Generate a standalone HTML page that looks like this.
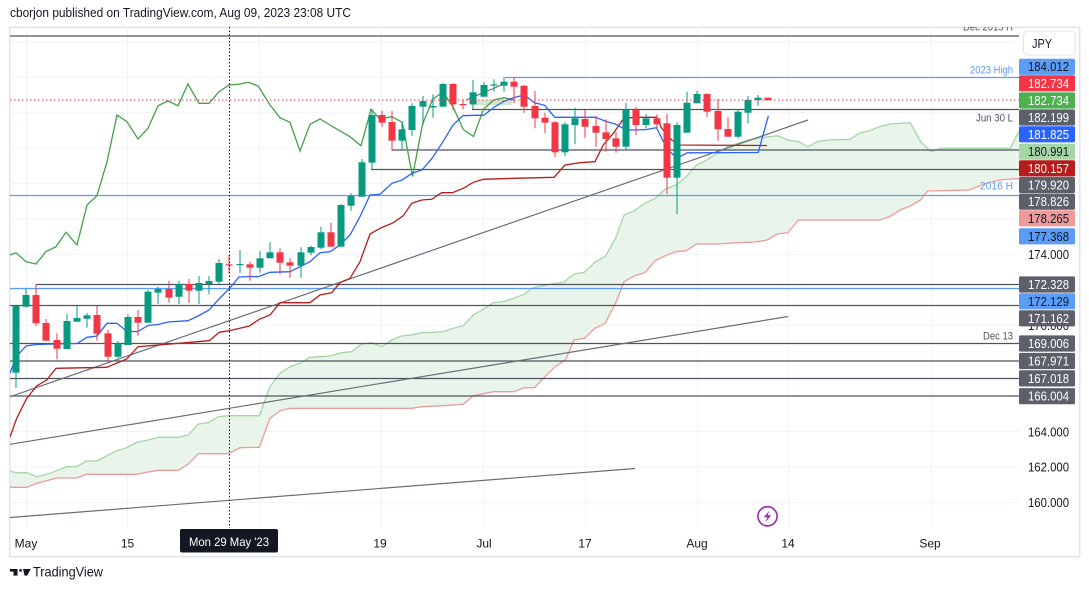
<!DOCTYPE html>
<html><head><meta charset="utf-8"><style>
html,body{margin:0;padding:0;background:#fff;}
body{width:1089px;height:592px;overflow:hidden;}
svg{display:block;font-family:"Liberation Sans",Arial,sans-serif;}
</style></head><body>
<svg width="1089" height="592" viewBox="0 0 1089 592" xmlns="http://www.w3.org/2000/svg">
<defs><clipPath id="pc"><rect x="10" y="27" width="1009" height="501"/></clipPath></defs>
<rect width="1089" height="592" fill="#fff"/>
<text x="10" y="17" font-size="13" fill="#131722" textLength="341" lengthAdjust="spacingAndGlyphs">cborjon published on TradingView.com, Aug 09, 2023 23:08 UTC</text>
<rect x="9.75" y="27.25" width="1070" height="529.5" fill="none" stroke="#e0e3eb" stroke-width="1.5"/>
<g clip-path="url(#pc)">
<g stroke="#f0f3fa" stroke-width="1">
<line x1="26.5" y1="27" x2="26.5" y2="528"/><line x1="127.5" y1="27" x2="127.5" y2="528"/><line x1="259.5" y1="27" x2="259.5" y2="528"/><line x1="381.5" y1="27" x2="381.5" y2="528"/><line x1="483.5" y1="27" x2="483.5" y2="528"/><line x1="585.5" y1="27" x2="585.5" y2="528"/><line x1="697.5" y1="27" x2="697.5" y2="528"/><line x1="788.5" y1="27" x2="788.5" y2="528"/><line x1="931.5" y1="27" x2="931.5" y2="528"/>
<line x1="10" y1="42" x2="1019" y2="42"/><line x1="10" y1="77.3" x2="1019" y2="77.3"/><line x1="10" y1="112.8" x2="1019" y2="112.8"/><line x1="10" y1="148.2" x2="1019" y2="148.2"/><line x1="10" y1="183.6" x2="1019" y2="183.6"/><line x1="10" y1="219" x2="1019" y2="219"/><line x1="10" y1="254.4" x2="1019" y2="254.4"/><line x1="10" y1="289.9" x2="1019" y2="289.9"/><line x1="10" y1="325.3" x2="1019" y2="325.3"/><line x1="10" y1="360.7" x2="1019" y2="360.7"/><line x1="10" y1="396" x2="1019" y2="396"/><line x1="10" y1="431.5" x2="1019" y2="431.5"/><line x1="10" y1="467" x2="1019" y2="467"/><line x1="10" y1="502.4" x2="1019" y2="502.4"/>
</g>
<polygon fill="#e9f5ea" points="10,471 16.7,472.7 26.7,472.7 36.7,476.7 46.7,474.3 56.7,470.7 66.7,466.7 76.7,466.7 86.7,461 96.7,461 106.7,456 116.7,450.7 126.7,447.7 136.7,442.3 148.3,440 158.3,437.3 178.3,437.3 188.3,435 198.3,424 208.3,422.7 218.3,416.7 228.3,415.7 259.3,415.7 265,400 270,386.7 280,373.3 290,366.7 300,363.3 310,357.3 320,356.7 330,356 341.7,352.7 351.7,351.7 361.7,344 371.7,342.7 381.7,346.7 391.7,340 401.7,336 411.7,335 421.7,332.7 433.3,332.3 443.3,331.7 453.3,328.3 463.3,325.7 473.3,315 483.3,309.3 493.3,302.7 503.3,301.7 513.8,298.3 524.1,294.3 532.8,287.7 551.7,284 563.8,282.3 574.1,274 584.5,272.3 594.8,262.3 605.2,256.7 615.5,238.3 624.1,215 634.5,210.7 644.8,203.3 655.2,198.3 665.5,189 675.9,185 686.2,176.7 696.6,165 706.9,160 717.2,153.3 727.6,146.7 737.9,143.3 748.3,140 758.6,138.3 769,136.7 777.6,135.7 787.9,140 798.3,141.7 807.9,146.7 817.2,141.7 827.6,140 850,139.3 860.3,132.7 869,131 879.3,126.7 889.7,124 910.3,122.7 920.7,141.7 931,151.7 941.4,148.3 1010.3,148.3 1019,131 1019,178.5 1000,180 989.7,182.3 979.3,186 969,190 927.6,191 920.7,200 910.3,206 900,210 889.7,216.7 879.3,220 798.3,220 787.9,232.7 777.6,234 767.2,240 755.2,242 737.9,242.7 717.2,244 696.6,244 686.2,250.7 675.9,251.7 665.5,255.7 655.2,260.7 644.8,272.7 634.5,275.7 624.1,281.7 615.5,303.3 605.2,323.3 594.8,328.3 584.5,338.3 574.1,340 565.5,360 555.2,366.7 544.8,376.7 534.5,387.7 524.1,387.7 513.8,391.7 493.3,391.7 473.3,395.7 463.3,404.3 443.3,405.7 421.7,406.7 411.7,408.3 290,408.3 280,410.7 270,418.3 259.3,447.3 240,447.7 228.3,453.7 198.3,453.7 188.3,464 178.3,470.3 158.3,470.3 146.7,472.3 136.7,474.3 86.7,474.3 76.7,478 56.7,478 46.7,480.7 36.7,483.3 26.7,487.3 10,487.3"/>
<polyline fill="none" stroke="#a5d6a7" stroke-width="1.3" points="10,471 16.7,472.7 26.7,472.7 36.7,476.7 46.7,474.3 56.7,470.7 66.7,466.7 76.7,466.7 86.7,461 96.7,461 106.7,456 116.7,450.7 126.7,447.7 136.7,442.3 148.3,440 158.3,437.3 178.3,437.3 188.3,435 198.3,424 208.3,422.7 218.3,416.7 228.3,415.7 259.3,415.7 265,400 270,386.7 280,373.3 290,366.7 300,363.3 310,357.3 320,356.7 330,356 341.7,352.7 351.7,351.7 361.7,344 371.7,342.7 381.7,346.7 391.7,340 401.7,336 411.7,335 421.7,332.7 433.3,332.3 443.3,331.7 453.3,328.3 463.3,325.7 473.3,315 483.3,309.3 493.3,302.7 503.3,301.7 513.8,298.3 524.1,294.3 532.8,287.7 551.7,284 563.8,282.3 574.1,274 584.5,272.3 594.8,262.3 605.2,256.7 615.5,238.3 624.1,215 634.5,210.7 644.8,203.3 655.2,198.3 665.5,189 675.9,185 686.2,176.7 696.6,165 706.9,160 717.2,153.3 727.6,146.7 737.9,143.3 748.3,140 758.6,138.3 769,136.7 777.6,135.7 787.9,140 798.3,141.7 807.9,146.7 817.2,141.7 827.6,140 850,139.3 860.3,132.7 869,131 879.3,126.7 889.7,124 910.3,122.7 920.7,141.7 931,151.7 941.4,148.3 1010.3,148.3 1019,131"/>
<polyline fill="none" stroke="#ef9a9a" stroke-width="1.3" points="1019,178.5 1000,180 989.7,182.3 979.3,186 969,190 927.6,191 920.7,200 910.3,206 900,210 889.7,216.7 879.3,220 798.3,220 787.9,232.7 777.6,234 767.2,240 755.2,242 737.9,242.7 717.2,244 696.6,244 686.2,250.7 675.9,251.7 665.5,255.7 655.2,260.7 644.8,272.7 634.5,275.7 624.1,281.7 615.5,303.3 605.2,323.3 594.8,328.3 584.5,338.3 574.1,340 565.5,360 555.2,366.7 544.8,376.7 534.5,387.7 524.1,387.7 513.8,391.7 493.3,391.7 473.3,395.7 463.3,404.3 443.3,405.7 421.7,406.7 411.7,408.3 290,408.3 280,410.7 270,418.3 259.3,447.3 240,447.7 228.3,453.7 198.3,453.7 188.3,464 178.3,470.3 158.3,470.3 146.7,472.3 136.7,474.3 86.7,474.3 76.7,478 56.7,478 46.7,480.7 36.7,483.3 26.7,487.3 10,487.3"/>
<rect x="470" y="100" width="42" height="5" fill="#cfe8d0"/>
<g stroke="#50535e" stroke-width="1.3">
<line x1="10" y1="36" x2="1019" y2="36"/>
<line x1="472" y1="109.5" x2="1019" y2="109.5"/>
<line x1="392" y1="150" x2="1019" y2="150"/>
<line x1="371" y1="169.5" x2="1019" y2="169.5"/>
<line x1="36" y1="284.5" x2="1019" y2="284.5"/>
<line x1="10" y1="305.5" x2="1019" y2="305.5"/>
<line x1="10" y1="343.5" x2="1019" y2="343.5"/>
<line x1="10" y1="361" x2="1019" y2="361"/>
<line x1="10" y1="378.5" x2="1019" y2="378.5"/>
<line x1="10" y1="396" x2="1019" y2="396"/>
</g>
<g stroke="#5b9cf6" stroke-width="1.3">
<line x1="505" y1="77.5" x2="1019" y2="77.5"/>
<line x1="10" y1="195.5" x2="1019" y2="195.5"/>
<line x1="10" y1="288.5" x2="1019" y2="288.5"/>
</g>
<g stroke="#6a6d78" stroke-width="1.2">
<line x1="10" y1="396.7" x2="808" y2="120"/>
<line x1="10" y1="444.3" x2="788" y2="316.5"/>
<line x1="10" y1="517.5" x2="635" y2="468.5"/>
<line x1="466" y1="100" x2="504" y2="84"/>
</g>
<polyline fill="none" stroke="#43a047" stroke-width="1.3" points="10,255 16,252.7 26,261.7 36,264 46,251.5 56,246.7 66,232.3 77,245 87,205 97,195.7 107,161.7 117,115 127,121.7 138,139 148,128.3 158,105.7 168,101 178,105.7 188,84 199,103.3 209,103.3 219,91.7 229,85 240,84 248.3,82.3 258.3,86 270,105 280,117.7 290,122.3 300,151 310,124.3 320,119 330,125 340,131 350,136.7 361,145.7 371,109.3 380,119 391.7,116.7 402.3,122.3 412.5,176.5 422.6,124 432.8,99 443,92 453.1,107 463.3,129.5 473.5,136.5 483.7,109 493.8,100 504,97.7 514.2,100"/>
<polyline fill="none" stroke="#b71c1c" stroke-width="1.3" points="10,437 16.7,418.3 26.7,398.3 36.7,386 46.7,380 56,368.3 106.7,367.3 126.7,359 138,346.7 209.3,340.7 219.3,332.3 229.3,330.7 249.3,326 259.3,319.3 270,315 280,302.7 310,302.7 320,295 331.7,292.7 340,282.7 350,278.3 360,261.7 370,234 380,228.3 393.3,222.7 403.3,215.7 411.7,203.3 421.7,200 431.7,199.3 441.7,192.7 452.3,192.7 463.3,188.3 473.3,182.3 483.3,179.3 513.3,178.3 554,177.3 565,165 580,162.7 595,161.7 603.3,145 613.3,133.3 623.3,119 633.3,117.3 656.7,117.3 661.7,128.3 671.7,140 680,145 767,145.5"/>
<polyline fill="none" stroke="#2962ff" stroke-width="1.3" points="10,373.3 16,357 26,346 36,344.5 77,343.5 87,337.3 97,336 107,323.3 117,323.3 127,331.5 138,331.5 148,325.5 158,324.5 168,322 188,320.7 199,315.5 209,310 219,299 229,289 239,277 250,276.5 258,276.7 270,272.3 290,271.7 310,261.7 320,252.7 330,251.7 340,245 350,235 360,216.7 370,195 380,194.3 392,183.3 402,180 412,173.3 422,170 432,158.3 443,141.7 453,125 463,115.7 473.5,115.3 483.7,115.3 493.8,107.5 504,101.2 514.2,97.5 524.3,95 534.5,102.8 544.7,105.3 554.8,117.3 595.5,117.3 605.7,121.2 615.9,124.2 626,130 636.2,130 646.4,129.5 656.5,127.7 666.7,148.3 676.9,158.3 687.1,152.8 758.2,152.5 768.4,115.8"/>
<g fill="#089981" stroke="#089981" stroke-width="1">
<line x1="16" y1="305.7" x2="16" y2="388"/><rect x="12.5" y="305.7" width="7" height="67" stroke="none"/>
<line x1="26" y1="288.3" x2="26" y2="307.7"/><rect x="22.5" y="295" width="7" height="11.7" stroke="none"/>
<line x1="67" y1="314" x2="67" y2="349"/><rect x="63.5" y="321" width="7" height="28" stroke="none"/>
<line x1="77" y1="305.7" x2="77" y2="321.7"/><rect x="73.5" y="318" width="7" height="3.7" stroke="none"/>
<line x1="87" y1="313" x2="87" y2="327.7"/><rect x="83.5" y="315.3" width="7" height="3.4" stroke="none"/>
<line x1="118" y1="341" x2="118" y2="357.7"/><rect x="114.5" y="343.7" width="7" height="13" stroke="none"/>
<line x1="128" y1="314.3" x2="128" y2="345"/><rect x="124.5" y="317" width="7" height="28" stroke="none"/>
<line x1="148" y1="290" x2="148" y2="322.7"/><rect x="144.5" y="291.7" width="7" height="31" stroke="none"/>
<line x1="158" y1="286.7" x2="158" y2="304"/><rect x="154.5" y="289" width="7" height="3.7" stroke="none"/>
<line x1="179" y1="280.7" x2="179" y2="304"/><rect x="175.5" y="284" width="7" height="12.7" stroke="none"/>
<line x1="199" y1="276" x2="199" y2="304"/><rect x="195.5" y="283" width="7" height="7.7" stroke="none"/>
<line x1="209" y1="276" x2="209" y2="294.3"/><rect x="205.5" y="281" width="7" height="3" stroke="none"/>
<line x1="219" y1="259" x2="219" y2="285"/><rect x="215.5" y="263" width="7" height="18.7" stroke="none"/>
<line x1="240" y1="250" x2="240" y2="273"/><rect x="236.5" y="264" width="7" height="1.2" stroke="none"/>
<line x1="260" y1="251" x2="260" y2="272.7"/><rect x="256.5" y="258.3" width="7" height="9.4" stroke="none"/>
<line x1="270" y1="242" x2="270" y2="258.3"/><rect x="266.5" y="252.3" width="7" height="6" stroke="none"/>
<line x1="301" y1="247.3" x2="301" y2="277.7"/><rect x="297.5" y="252.3" width="7" height="13.4" stroke="none"/>
<line x1="311" y1="245.7" x2="311" y2="255.3"/><rect x="307.5" y="247" width="7" height="5.7" stroke="none"/>
<line x1="321" y1="226.7" x2="321" y2="249.3"/><rect x="317.5" y="232.3" width="7" height="15.4" stroke="none"/>
<line x1="341" y1="204" x2="341" y2="246.7"/><rect x="337.5" y="205" width="7" height="41.7" stroke="none"/>
<line x1="351" y1="193.3" x2="351" y2="210.7"/><rect x="347.5" y="196" width="7" height="9.7" stroke="none"/>
<line x1="362" y1="159" x2="362" y2="196.7"/><rect x="358.5" y="162.3" width="7" height="34.4" stroke="none"/>
<line x1="372" y1="109.3" x2="372" y2="169.3"/><rect x="368.5" y="115" width="7" height="47.7" stroke="none"/>
<line x1="402" y1="121.7" x2="402" y2="150.7"/><rect x="398.5" y="129.3" width="7" height="11.4" stroke="none"/>
<line x1="412" y1="103.3" x2="412" y2="135.7"/><rect x="408.5" y="106" width="7" height="24" stroke="none"/>
<line x1="423" y1="96" x2="423" y2="125"/><rect x="419.5" y="101" width="7" height="5.7" stroke="none"/>
<line x1="433" y1="94.3" x2="433" y2="117.7"/><rect x="429.5" y="106" width="7" height="1.5" stroke="none"/>
<line x1="443" y1="82.7" x2="443" y2="106.7"/><rect x="439.5" y="84" width="7" height="22.7" stroke="none"/>
<line x1="473" y1="80" x2="473" y2="109.3"/><rect x="469.5" y="92.3" width="7" height="12" stroke="none"/>
<line x1="484" y1="82.3" x2="484" y2="96.7"/><rect x="480.5" y="85" width="7" height="11.7" stroke="none"/>
<line x1="494" y1="79.3" x2="494" y2="91.7"/><rect x="490.5" y="84.4" width="7" height="1.2" stroke="none"/>
<line x1="504" y1="77.3" x2="504" y2="91.7"/><rect x="500.5" y="81.7" width="7" height="4" stroke="none"/>
<line x1="565" y1="122.3" x2="565" y2="156.3"/><rect x="561.5" y="124.3" width="7" height="28" stroke="none"/>
<line x1="575" y1="107.7" x2="575" y2="144.3"/><rect x="571.5" y="118.3" width="7" height="6.7" stroke="none"/>
<line x1="626" y1="102.7" x2="626" y2="150"/><rect x="622.5" y="109.3" width="7" height="37.4" stroke="none"/>
<line x1="646" y1="114.3" x2="646" y2="128.3"/><rect x="642.5" y="118.3" width="7" height="6.7" stroke="none"/>
<line x1="677" y1="122.3" x2="677" y2="214"/><rect x="673.5" y="125" width="7" height="52.7" stroke="none"/>
<line x1="687" y1="91.7" x2="687" y2="132.7"/><rect x="683.5" y="102.7" width="7" height="30" stroke="none"/>
<line x1="697" y1="91" x2="697" y2="103.3"/><rect x="693.5" y="94" width="7" height="9.3" stroke="none"/>
<line x1="738" y1="109.3" x2="738" y2="138.3"/><rect x="734.5" y="111.7" width="7" height="25" stroke="none"/>
<line x1="748" y1="96" x2="748" y2="123.3"/><rect x="744.5" y="100" width="7" height="12.7" stroke="none"/>
<line x1="758" y1="95" x2="758" y2="105.7"/><rect x="754.5" y="97.7" width="7" height="2.3" stroke="none"/>
</g>
<g fill="#f23645" stroke="#f23645" stroke-width="1">
<line x1="36" y1="284.3" x2="36" y2="325.7"/><rect x="32.5" y="295" width="7" height="28.3" stroke="none"/>
<line x1="46" y1="319" x2="46" y2="340.7"/><rect x="42.5" y="323" width="7" height="17.7" stroke="none"/>
<line x1="57" y1="333.3" x2="57" y2="359.3"/><rect x="53.5" y="340" width="7" height="8.7" stroke="none"/>
<line x1="97" y1="305.7" x2="97" y2="340.7"/><rect x="93.5" y="315" width="7" height="18.7" stroke="none"/>
<line x1="108" y1="330" x2="108" y2="361.7"/><rect x="104.5" y="333.3" width="7" height="23.4" stroke="none"/>
<line x1="138" y1="310" x2="138" y2="335.7"/><rect x="134.5" y="317" width="7" height="5.7" stroke="none"/>
<line x1="169" y1="280.7" x2="169" y2="302.7"/><rect x="165.5" y="289" width="7" height="8.7" stroke="none"/>
<line x1="189" y1="279" x2="189" y2="302.7"/><rect x="185.5" y="284" width="7" height="6.7" stroke="none"/>
<line x1="229" y1="255" x2="229" y2="273.3"/><rect x="225.5" y="264.3" width="7" height="1.2" stroke="none"/>
<line x1="250" y1="261.7" x2="250" y2="280.7"/><rect x="246.5" y="264.3" width="7" height="3.4" stroke="none"/>
<line x1="280" y1="248.3" x2="280" y2="274.3"/><rect x="276.5" y="252.3" width="7" height="10.4" stroke="none"/>
<line x1="290" y1="258.3" x2="290" y2="277.7"/><rect x="286.5" y="262.3" width="7" height="3.4" stroke="none"/>
<line x1="331" y1="222.7" x2="331" y2="246.7"/><rect x="327.5" y="232.3" width="7" height="14.4" stroke="none"/>
<line x1="382" y1="110.7" x2="382" y2="126.7"/><rect x="378.5" y="115" width="7" height="7.7" stroke="none"/>
<line x1="392" y1="111" x2="392" y2="150.7"/><rect x="388.5" y="122" width="7" height="18.7" stroke="none"/>
<line x1="453" y1="83.3" x2="453" y2="110"/><rect x="449.5" y="84" width="7" height="20.3" stroke="none"/>
<line x1="463" y1="99.3" x2="463" y2="109.3"/><rect x="459.5" y="104" width="7" height="1.2" stroke="none"/>
<line x1="514" y1="77.3" x2="514" y2="103.3"/><rect x="510.5" y="81.7" width="7" height="5" stroke="none"/>
<line x1="524" y1="85" x2="524" y2="112.7"/><rect x="520.5" y="85.7" width="7" height="21" stroke="none"/>
<line x1="535" y1="91" x2="535" y2="128.3"/><rect x="531.5" y="106" width="7" height="12.3" stroke="none"/>
<line x1="545" y1="112.7" x2="545" y2="133.3"/><rect x="541.5" y="117.7" width="7" height="5" stroke="none"/>
<line x1="555" y1="121" x2="555" y2="157.3"/><rect x="551.5" y="122.3" width="7" height="30" stroke="none"/>
<line x1="585" y1="110" x2="585" y2="137.7"/><rect x="581.5" y="119" width="7" height="7.7" stroke="none"/>
<line x1="596" y1="116" x2="596" y2="146.7"/><rect x="592.5" y="126" width="7" height="6.7" stroke="none"/>
<line x1="606" y1="119.3" x2="606" y2="151.7"/><rect x="602.5" y="132.3" width="7" height="6.7" stroke="none"/>
<line x1="616" y1="131.7" x2="616" y2="152.7"/><rect x="612.5" y="138.3" width="7" height="8.4" stroke="none"/>
<line x1="636" y1="106.7" x2="636" y2="135"/><rect x="632.5" y="110" width="7" height="15" stroke="none"/>
<line x1="657" y1="114.3" x2="657" y2="128.3"/><rect x="653.5" y="118.3" width="7" height="6" stroke="none"/>
<line x1="667" y1="114" x2="667" y2="194"/><rect x="663.5" y="123.3" width="7" height="54.4" stroke="none"/>
<line x1="707" y1="93.3" x2="707" y2="116.7"/><rect x="703.5" y="94" width="7" height="17.7" stroke="none"/>
<line x1="718" y1="99" x2="718" y2="140.7"/><rect x="714.5" y="111" width="7" height="18.3" stroke="none"/>
<line x1="728" y1="117.3" x2="728" y2="136.7"/><rect x="724.5" y="129" width="7" height="7.7" stroke="none"/>
<rect x="764.5" y="97.7" width="7" height="2.6" stroke="none"/>
</g>
<line x1="10" y1="100" x2="1019" y2="100" stroke="#f23645" stroke-width="1" stroke-dasharray="1.5,2.5"/>
<line x1="229.5" y1="27" x2="229.5" y2="528" stroke="#131722" stroke-width="1" stroke-dasharray="1.5,2"/>
<g font-size="11" text-anchor="end">
<text x="1013" y="30.5" fill="#50535e" textLength="50" lengthAdjust="spacingAndGlyphs">Dec 2015 H</text>
<text x="1013" y="73.3" fill="#5b9cf6" textLength="43" lengthAdjust="spacingAndGlyphs">2023 High</text>
<text x="1013" y="121.7" fill="#50535e" textLength="37" lengthAdjust="spacingAndGlyphs">Jun 30 L</text>
<text x="1013" y="189.7" fill="#5b9cf6" textLength="33" lengthAdjust="spacingAndGlyphs">2016 H</text>
<text x="1013" y="339.3" fill="#50535e" textLength="30" lengthAdjust="spacingAndGlyphs">Dec 13</text>
</g>
<circle cx="767.5" cy="516.3" r="9.6" fill="#fff" stroke="#9c27b0" stroke-width="1.6"/>
<path d="M769.5,510.5 L763.8,517.3 L767.4,517.3 L765.5,522.3 L771.2,515.3 L767.6,515.3 Z" fill="#9c27b0"/>
</g>
<!-- price axis -->
<rect x="1023.5" y="31" width="51.5" height="24" rx="4" fill="#fff" stroke="#e0e3eb" stroke-width="1"/>
<text x="1032" y="48" font-size="13" fill="#131722" textLength="20" lengthAdjust="spacingAndGlyphs">JPY</text>
<g font-size="12.5" text-anchor="end" fill="#131722">
<text x="1069" y="258.8" textLength="41" lengthAdjust="spacingAndGlyphs">174.000</text>
<text x="1069" y="329.8" textLength="41" lengthAdjust="spacingAndGlyphs">170.000</text>
<text x="1069" y="436.4" textLength="41" lengthAdjust="spacingAndGlyphs">164.000</text>
<text x="1069" y="471.6" textLength="41" lengthAdjust="spacingAndGlyphs">162.000</text>
<text x="1069" y="506.9" textLength="41" lengthAdjust="spacingAndGlyphs">160.000</text>
</g>
<g font-size="12.5" text-anchor="end">
<rect x="1019" y="58.7" width="56" height="16.2" rx="1.5" fill="#5b9cf6"/><text x="1069" y="71.2" fill="#131722" textLength="41" lengthAdjust="spacingAndGlyphs">184.012</text>
<rect x="1019" y="75.2" width="56" height="16.2" rx="1.5" fill="#f23645"/><text x="1069" y="87.8" fill="#fff" textLength="41" lengthAdjust="spacingAndGlyphs">182.734</text>
<rect x="1019" y="92.4" width="56" height="16.2" rx="1.5" fill="#4caf50"/><text x="1069" y="105" fill="#fff" textLength="41" lengthAdjust="spacingAndGlyphs">182.734</text>
<rect x="1019" y="109.4" width="56" height="16.2" rx="1.5" fill="#5d606b"/><text x="1069" y="122" fill="#fff" textLength="41" lengthAdjust="spacingAndGlyphs">182.199</text>
<rect x="1019" y="126.2" width="56" height="16.2" rx="1.5" fill="#2962ff"/><text x="1069" y="138.8" fill="#fff" textLength="41" lengthAdjust="spacingAndGlyphs">181.825</text>
<rect x="1019" y="143.6" width="56" height="16.2" rx="1.5" fill="#a5d6a7"/><text x="1069" y="156.2" fill="#131722" textLength="41" lengthAdjust="spacingAndGlyphs">180.991</text>
<rect x="1019" y="160.2" width="56" height="16.2" rx="1.5" fill="#b71c1c"/><text x="1069" y="172.8" fill="#fff" textLength="41" lengthAdjust="spacingAndGlyphs">180.157</text>
<rect x="1019" y="176.9" width="56" height="16.2" rx="1.5" fill="#5d606b"/><text x="1069" y="189.5" fill="#fff" textLength="41" lengthAdjust="spacingAndGlyphs">179.920</text>
<rect x="1019" y="193.6" width="56" height="16.2" rx="1.5" fill="#5d606b"/><text x="1069" y="206.2" fill="#fff" textLength="41" lengthAdjust="spacingAndGlyphs">178.826</text>
<rect x="1019" y="210.2" width="56" height="16.2" rx="1.5" fill="#ef9a9a"/><text x="1069" y="222.8" fill="#131722" textLength="41" lengthAdjust="spacingAndGlyphs">178.265</text>
<rect x="1019" y="228.2" width="56" height="16.2" rx="1.5" fill="#5b9cf6"/><text x="1069" y="240.8" fill="#131722" textLength="41" lengthAdjust="spacingAndGlyphs">177.368</text>
<rect x="1019" y="276.4" width="56" height="16.2" rx="1.5" fill="#5d606b"/><text x="1069" y="289" fill="#fff" textLength="41" lengthAdjust="spacingAndGlyphs">172.328</text>
<rect x="1019" y="293.2" width="56" height="16.2" rx="1.5" fill="#5b9cf6"/><text x="1069" y="305.8" fill="#131722" textLength="41" lengthAdjust="spacingAndGlyphs">172.129</text>
<rect x="1019" y="310.2" width="56" height="16.2" rx="1.5" fill="#5d606b"/><text x="1069" y="322.8" fill="#fff" textLength="41" lengthAdjust="spacingAndGlyphs">171.162</text>
<rect x="1019" y="335.4" width="56" height="16.2" rx="1.5" fill="#5d606b"/><text x="1069" y="348" fill="#fff" textLength="41" lengthAdjust="spacingAndGlyphs">169.006</text>
<rect x="1019" y="352.9" width="56" height="16.2" rx="1.5" fill="#5d606b"/><text x="1069" y="365.5" fill="#fff" textLength="41" lengthAdjust="spacingAndGlyphs">167.971</text>
<rect x="1019" y="370.3" width="56" height="16.2" rx="1.5" fill="#5d606b"/><text x="1069" y="382.9" fill="#fff" textLength="41" lengthAdjust="spacingAndGlyphs">167.018</text>
<rect x="1019" y="388.1" width="56" height="16.2" rx="1.5" fill="#5d606b"/><text x="1069" y="400.7" fill="#fff" textLength="41" lengthAdjust="spacingAndGlyphs">166.004</text>
</g>
<!-- time axis -->
<g font-size="12" fill="#131722" text-anchor="middle">
<text x="26" y="547.5">May</text>
<text x="127.5" y="547.5">15</text>
<text x="380" y="547.5">19</text>
<text x="484" y="547.5">Jul</text>
<text x="585" y="547.5">17</text>
<text x="697" y="547.5">Aug</text>
<text x="788" y="547.5">14</text>
<text x="930" y="547.5">Sep</text>
</g>
<rect x="180" y="529" width="98" height="23.5" rx="2" fill="#131722"/>
<text x="229" y="546" font-size="12" fill="#fff" text-anchor="middle" textLength="80" lengthAdjust="spacingAndGlyphs">Mon 29 May '23</text>
<!-- logo -->
<g fill="#131722">
<rect x="10" y="569" width="7.5" height="2.6"/>
<rect x="13.5" y="569" width="4" height="6.6"/>
<circle cx="20.6" cy="570.4" r="1.4"/>
<polygon points="23,569 30.7,569 27.2,575.6 24.6,575.6"/>
</g>
<text x="33" y="576.5" font-size="14" fill="#131722" textLength="70" lengthAdjust="spacingAndGlyphs">TradingView</text>
</svg>
</body></html>
